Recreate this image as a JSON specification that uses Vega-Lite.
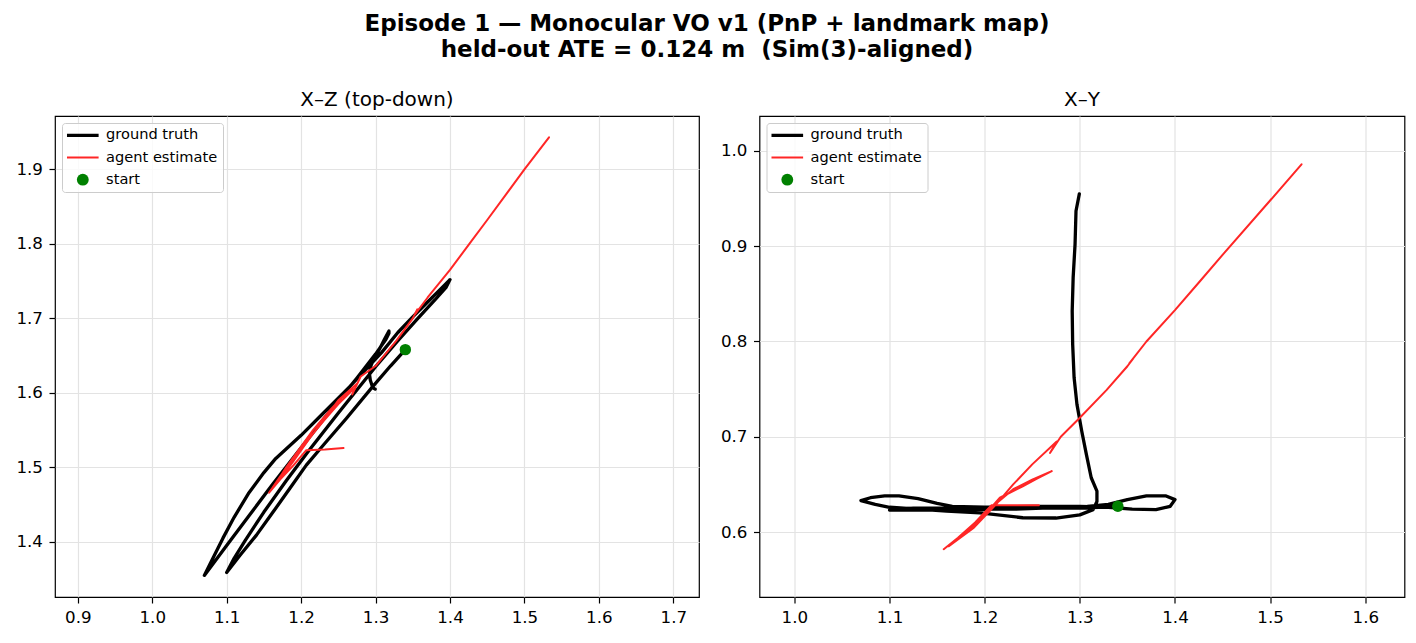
{
  "$schema": "https://vega.github.io/schema/vega-lite/v6.json",
  "background": "white",
  "padding": {"left": 15, "top": 12, "right": 11, "bottom": 10},
  "bounds": "flush",
  "spacing": 60.5,
  "title": {
    "text": ["Episode 1 — Monocular VO v1 (PnP + landmark map)", "held-out ATE = 0.124 m \u00a0(Sim(3)-aligned)"],
    "fontSize": 23, "fontWeight": "bold", "font": "DejaVu Sans", "color": "black",
    "anchor": "start", "align": "center", "frame": "group", "baseline": "bottom", "offset": 4.7, "lineHeight": 26, "dx": 652
  },
  "config": {
    "font": "DejaVu Sans",
    "view": {"stroke": "black", "strokeWidth": 1.2},
    "axis": {"domain": false, "grid": true, "gridColor": "#e3e3e3", "gridWidth": 1.2, "ticks": true, "tickColor": "black", "tickSize": 6, "tickWidth": 1.2, "labelFont": "DejaVu Sans", "labelFontSize": 16.7, "labelColor": "black", "labelPadding": 6.5, "labelFlush": false, "title": null},
    "title": {"font": "DejaVu Sans", "fontSize": 20, "fontWeight": "normal", "color": "black", "anchor": "middle", "frame": "group", "offset": 6, "baseline": "alphabetic"}
  },
  "data": {"values": [
    {"series": "start", "i": 0, "x": 1.340, "y": 0.627, "z": 1.658},
    {"series": "ground truth", "i": 0, "x": 1.340, "y": 0.627, "z": 1.658},
    {"series": "ground truth", "i": 1, "x": 1.320, "y": 0.626, "z": 1.636},
    {"series": "ground truth", "i": 2, "x": 1.295, "y": 0.625, "z": 1.607},
    {"series": "ground truth", "i": 3, "x": 1.261, "y": 0.625, "z": 1.566},
    {"series": "ground truth", "i": 4, "x": 1.230, "y": 0.624, "z": 1.530},
    {"series": "ground truth", "i": 5, "x": 1.207, "y": 0.624, "z": 1.503},
    {"series": "ground truth", "i": 6, "x": 1.185, "y": 0.623, "z": 1.472},
    {"series": "ground truth", "i": 7, "x": 1.163, "y": 0.623, "z": 1.441},
    {"series": "ground truth", "i": 8, "x": 1.140, "y": 0.623, "z": 1.409},
    {"series": "ground truth", "i": 9, "x": 1.118, "y": 0.623, "z": 1.382},
    {"series": "ground truth", "i": 10, "x": 1.100, "y": 0.623, "z": 1.359},
    {"series": "ground truth", "i": 11, "x": 1.110, "y": 0.624, "z": 1.378},
    {"series": "ground truth", "i": 12, "x": 1.125, "y": 0.625, "z": 1.402},
    {"series": "ground truth", "i": 13, "x": 1.150, "y": 0.625, "z": 1.440},
    {"series": "ground truth", "i": 14, "x": 1.180, "y": 0.626, "z": 1.482},
    {"series": "ground truth", "i": 15, "x": 1.210, "y": 0.626, "z": 1.522},
    {"series": "ground truth", "i": 16, "x": 1.250, "y": 0.627, "z": 1.573},
    {"series": "ground truth", "i": 17, "x": 1.300, "y": 0.627, "z": 1.635},
    {"series": "ground truth", "i": 18, "x": 1.330, "y": 0.626, "z": 1.670},
    {"series": "ground truth", "i": 19, "x": 1.355, "y": 0.624, "z": 1.698},
    {"series": "ground truth", "i": 20, "x": 1.380, "y": 0.6235, "z": 1.725},
    {"series": "ground truth", "i": 21, "x": 1.395, "y": 0.627, "z": 1.742},
    {"series": "ground truth", "i": 22, "x": 1.400, "y": 0.634, "z": 1.752},
    {"series": "ground truth", "i": 23, "x": 1.390, "y": 0.638, "z": 1.742},
    {"series": "ground truth", "i": 24, "x": 1.370, "y": 0.638, "z": 1.722},
    {"series": "ground truth", "i": 25, "x": 1.350, "y": 0.634, "z": 1.702},
    {"series": "ground truth", "i": 26, "x": 1.330, "y": 0.629, "z": 1.681},
    {"series": "ground truth", "i": 27, "x": 1.308, "y": 0.627, "z": 1.654},
    {"series": "ground truth", "i": 28, "x": 1.265, "y": 0.626, "z": 1.608},
    {"series": "ground truth", "i": 29, "x": 1.228, "y": 0.626, "z": 1.571},
    {"series": "ground truth", "i": 30, "x": 1.200, "y": 0.626, "z": 1.543},
    {"series": "ground truth", "i": 31, "x": 1.166, "y": 0.627, "z": 1.512},
    {"series": "ground truth", "i": 32, "x": 1.150, "y": 0.630, "z": 1.493},
    {"series": "ground truth", "i": 33, "x": 1.130, "y": 0.635, "z": 1.466},
    {"series": "ground truth", "i": 34, "x": 1.110, "y": 0.638, "z": 1.433},
    {"series": "ground truth", "i": 35, "x": 1.095, "y": 0.638, "z": 1.405},
    {"series": "ground truth", "i": 36, "x": 1.080, "y": 0.636, "z": 1.375},
    {"series": "ground truth", "i": 37, "x": 1.070, "y": 0.633, "z": 1.355},
    {"series": "ground truth", "i": 38, "x": 1.085, "y": 0.629, "z": 1.375},
    {"series": "ground truth", "i": 39, "x": 1.100, "y": 0.626, "z": 1.395},
    {"series": "ground truth", "i": 40, "x": 1.130, "y": 0.624, "z": 1.435},
    {"series": "ground truth", "i": 41, "x": 1.160, "y": 0.622, "z": 1.475},
    {"series": "ground truth", "i": 42, "x": 1.195, "y": 0.620, "z": 1.520},
    {"series": "ground truth", "i": 43, "x": 1.240, "y": 0.615, "z": 1.577},
    {"series": "ground truth", "i": 44, "x": 1.275, "y": 0.6147, "z": 1.620},
    {"series": "ground truth", "i": 45, "x": 1.300, "y": 0.618, "z": 1.652},
    {"series": "ground truth", "i": 46, "x": 1.314, "y": 0.6235, "z": 1.672},
    {"series": "ground truth", "i": 47, "x": 1.318, "y": 0.632, "z": 1.680},
    {"series": "ground truth", "i": 48, "x": 1.318, "y": 0.643, "z": 1.683},
    {"series": "ground truth", "i": 49, "x": 1.312, "y": 0.657, "z": 1.672},
    {"series": "ground truth", "i": 50, "x": 1.307, "y": 0.681, "z": 1.662},
    {"series": "ground truth", "i": 51, "x": 1.302, "y": 0.706, "z": 1.653},
    {"series": "ground truth", "i": 52, "x": 1.297, "y": 0.734, "z": 1.644},
    {"series": "ground truth", "i": 53, "x": 1.294, "y": 0.762, "z": 1.637},
    {"series": "ground truth", "i": 54, "x": 1.2925, "y": 0.797, "z": 1.630},
    {"series": "ground truth", "i": 55, "x": 1.292, "y": 0.832, "z": 1.624},
    {"series": "ground truth", "i": 56, "x": 1.293, "y": 0.867, "z": 1.617},
    {"series": "ground truth", "i": 57, "x": 1.295, "y": 0.902, "z": 1.611},
    {"series": "ground truth", "i": 58, "x": 1.296, "y": 0.937, "z": 1.607},
    {"series": "ground truth", "i": 59, "x": 1.2995, "y": 0.955, "z": 1.605},
    {"series": "agent estimate", "i": 0, "x": 1.257, "y": 0.628, "z": 1.526},
    {"series": "agent estimate", "i": 1, "x": 1.232, "y": 0.628, "z": 1.524},
    {"series": "agent estimate", "i": 2, "x": 1.207, "y": 0.628, "z": 1.523},
    {"series": "agent estimate", "i": 3, "x": 1.190, "y": 0.610, "z": 1.503},
    {"series": "agent estimate", "i": 4, "x": 1.172, "y": 0.594, "z": 1.484},
    {"series": "agent estimate", "i": 5, "x": 1.157, "y": 0.582, "z": 1.466},
    {"series": "agent estimate", "i": 6, "x": 1.172, "y": 0.594, "z": 1.488},
    {"series": "agent estimate", "i": 7, "x": 1.190, "y": 0.608, "z": 1.512},
    {"series": "agent estimate", "i": 8, "x": 1.210, "y": 0.628, "z": 1.538},
    {"series": "agent estimate", "i": 9, "x": 1.230, "y": 0.645, "z": 1.562},
    {"series": "agent estimate", "i": 10, "x": 1.250, "y": 0.655, "z": 1.585},
    {"series": "agent estimate", "i": 11, "x": 1.2705, "y": 0.664, "z": 1.605},
    {"series": "agent estimate", "i": 12, "x": 1.255, "y": 0.656, "z": 1.594},
    {"series": "agent estimate", "i": 13, "x": 1.240, "y": 0.648, "z": 1.578},
    {"series": "agent estimate", "i": 14, "x": 1.216, "y": 0.636, "z": 1.550},
    {"series": "agent estimate", "i": 15, "x": 1.200, "y": 0.618, "z": 1.528},
    {"series": "agent estimate", "i": 16, "x": 1.180, "y": 0.600, "z": 1.500},
    {"series": "agent estimate", "i": 17, "x": 1.162, "y": 0.585, "z": 1.472},
    {"series": "agent estimate", "i": 18, "x": 1.188, "y": 0.604, "z": 1.506},
    {"series": "agent estimate", "i": 19, "x": 1.212, "y": 0.629, "z": 1.540},
    {"series": "agent estimate", "i": 20, "x": 1.230, "y": 0.650, "z": 1.563},
    {"series": "agent estimate", "i": 21, "x": 1.250, "y": 0.671, "z": 1.590},
    {"series": "agent estimate", "i": 22, "x": 1.2757, "y": 0.695, "z": 1.613},
    {"series": "agent estimate", "i": 23, "x": 1.2687, "y": 0.683, "z": 1.598},
    {"series": "agent estimate", "i": 24, "x": 1.280, "y": 0.700, "z": 1.622},
    {"series": "agent estimate", "i": 25, "x": 1.300, "y": 0.720, "z": 1.636},
    {"series": "agent estimate", "i": 26, "x": 1.328, "y": 0.749, "z": 1.670},
    {"series": "agent estimate", "i": 27, "x": 1.350, "y": 0.774, "z": 1.700},
    {"series": "agent estimate", "i": 28, "x": 1.356, "y": 0.782, "z": 1.712},
    {"series": "agent estimate", "i": 29, "x": 1.352, "y": 0.777, "z": 1.704},
    {"series": "agent estimate", "i": 30, "x": 1.370, "y": 0.800, "z": 1.728},
    {"series": "agent estimate", "i": 31, "x": 1.400, "y": 0.833, "z": 1.765},
    {"series": "agent estimate", "i": 32, "x": 1.426, "y": 0.863, "z": 1.800},
    {"series": "agent estimate", "i": 33, "x": 1.450, "y": 0.891, "z": 1.832},
    {"series": "agent estimate", "i": 34, "x": 1.500, "y": 0.948, "z": 1.900},
    {"series": "agent estimate", "i": 35, "x": 1.533, "y": 0.986, "z": 1.943}
  ]},
  "resolve": {"scale": {"color": "independent"}, "legend": {"color": "independent"}},
  "hconcat": [
    {
      "width": 644, "height": 481,
      "title": {"text": "X–Z (top-down)"},
      "encoding": {
        "x": {"field": "x", "type": "quantitative", "scale": {"domain": [0.8694, 1.7345], "nice": false, "zero": false}, "axis": {"values": [0.9, 1.0, 1.1, 1.2, 1.3, 1.4, 1.5, 1.6, 1.7], "format": ".1f"}},
        "y": {"field": "z", "type": "quantitative", "scale": {"domain": [1.326, 1.9716], "nice": false, "zero": false}, "axis": {"values": [1.4, 1.5, 1.6, 1.7, 1.8, 1.9], "format": ".1f"}},
        "color": {"field": "series", "type": "nominal",
          "scale": {"domain": ["ground truth", "agent estimate", "start"], "range": ["#000000", "#ff2626", "#008000"]},
          "legend": {"title": null, "orient": "top-left", "offset": 6.5, "padding": 5, "rowPadding": 7.2,
            "labelFontSize": 14.6, "labelFont": "DejaVu Sans", "labelColor": "black",
            "symbolSize": 169, "symbolOffset": 8.5, "labelOffset": 16, "symbolType": "stroke",
            "fillColor": "rgba(255,255,255,0.8)", "strokeColor": "#cccccc", "cornerRadius": 3,
            "encode": {"symbols": {"update": {
              "shape": {"signal": "datum.label === 'start' ? 'circle' : 'stroke'"},
              "size": {"signal": "datum.label === 'start' ? 140 : 1000"},
              "strokeWidth": {"signal": "datum.label === 'ground truth' ? 3.3 : (datum.label === 'agent estimate' ? 2 : 0)"},
              "stroke": {"signal": "datum.label === 'ground truth' ? '#000000' : (datum.label === 'agent estimate' ? '#ff2626' : 'transparent')"},
              "fill": {"signal": "datum.label === 'start' ? '#008000' : 'transparent'"},
              "opacity": {"value": 1}
            }}}
          }
        }
      },
      "layer": [
        {"transform": [{"filter": "datum.series === 'ground truth'"}],
         "mark": {"type": "line", "strokeWidth": 3.3, "strokeCap": "round", "strokeJoin": "round", "clip": true},
         "encoding": {"order": {"field": "i", "type": "quantitative"}}},
        {"transform": [{"filter": "datum.series === 'agent estimate'"}],
         "mark": {"type": "line", "strokeWidth": 2, "strokeCap": "round", "strokeJoin": "round", "clip": true},
         "encoding": {"order": {"field": "i", "type": "quantitative"}}},
        {"transform": [{"filter": "datum.series === 'start'"}],
         "mark": {"type": "point", "filled": true, "size": 130, "opacity": 1},
         "encoding": {}}
      ]
    },
    {
      "width": 645, "height": 481,
      "title": {"text": "X–Y"},
      "encoding": {
        "x": {"field": "x", "type": "quantitative", "scale": {"domain": [0.9634, 1.6412], "nice": false, "zero": false}, "axis": {"values": [1.0, 1.1, 1.2, 1.3, 1.4, 1.5, 1.6], "format": ".1f"}},
        "y": {"field": "y", "type": "quantitative", "scale": {"domain": [0.5318, 1.0367], "nice": false, "zero": false}, "axis": {"values": [0.6, 0.7, 0.8, 0.9, 1.0], "format": ".1f"}},
        "color": {"field": "series", "type": "nominal",
          "scale": {"domain": ["ground truth", "agent estimate", "start"], "range": ["#000000", "#ff2626", "#008000"]},
          "legend": {"title": null, "orient": "top-left", "offset": 6.5, "padding": 5, "rowPadding": 7.2,
            "labelFontSize": 14.6, "labelFont": "DejaVu Sans", "labelColor": "black",
            "symbolSize": 169, "symbolOffset": 8.5, "labelOffset": 16, "symbolType": "stroke",
            "fillColor": "rgba(255,255,255,0.8)", "strokeColor": "#cccccc", "cornerRadius": 3,
            "encode": {"symbols": {"update": {
              "shape": {"signal": "datum.label === 'start' ? 'circle' : 'stroke'"},
              "size": {"signal": "datum.label === 'start' ? 140 : 1000"},
              "strokeWidth": {"signal": "datum.label === 'ground truth' ? 3.3 : (datum.label === 'agent estimate' ? 2 : 0)"},
              "stroke": {"signal": "datum.label === 'ground truth' ? '#000000' : (datum.label === 'agent estimate' ? '#ff2626' : 'transparent')"},
              "fill": {"signal": "datum.label === 'start' ? '#008000' : 'transparent'"},
              "opacity": {"value": 1}
            }}}
          }
        }
      },
      "layer": [
        {"transform": [{"filter": "datum.series === 'ground truth'"}],
         "mark": {"type": "line", "strokeWidth": 3.3, "strokeCap": "round", "strokeJoin": "round", "clip": true},
         "encoding": {"order": {"field": "i", "type": "quantitative"}}},
        {"transform": [{"filter": "datum.series === 'agent estimate'"}],
         "mark": {"type": "line", "strokeWidth": 2, "strokeCap": "round", "strokeJoin": "round", "clip": true},
         "encoding": {"order": {"field": "i", "type": "quantitative"}}},
        {"transform": [{"filter": "datum.series === 'start'"}],
         "mark": {"type": "point", "filled": true, "size": 130, "opacity": 1},
         "encoding": {}}
      ]
    }
  ]
}
